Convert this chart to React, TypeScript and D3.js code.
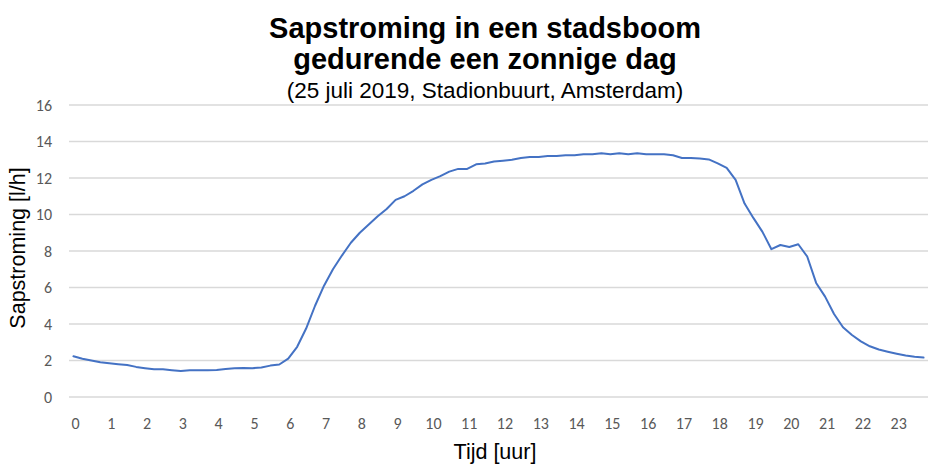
import React, { useEffect } from "react";
import * as d3 from "d3";

// sap flow in l/h, measured every 15 minutes from 00:00 to 23:45
const flow: number[] = [
  2.23, 2.1, 2.0, 1.9, 1.85, 1.8, 1.75, 1.65, 1.58, 1.52, 1.52, 1.47,
  1.42, 1.46, 1.47, 1.47, 1.48, 1.53, 1.58, 1.59, 1.58, 1.62, 1.72, 1.78,
  2.1, 2.75, 3.75, 5.0, 6.1, 7.0, 7.75, 8.45, 9.0, 9.45, 9.9, 10.3,
  10.8, 11.0, 11.3, 11.65, 11.9, 12.1, 12.35, 12.5, 12.5, 12.75, 12.8, 12.9,
  12.95, 13.0, 13.1, 13.15, 13.15, 13.2, 13.2, 13.25, 13.25, 13.3, 13.3, 13.35,
  13.3, 13.35, 13.3, 13.35, 13.3, 13.3, 13.3, 13.25, 13.1, 13.1, 13.07, 13.02,
  12.8, 12.55, 11.9, 10.6, 9.8, 9.05, 8.1, 8.33, 8.22, 8.37, 7.7, 6.25,
  5.5, 4.55, 3.82, 3.4, 3.05, 2.78, 2.6, 2.48, 2.37, 2.27, 2.2, 2.16,
];

const slotsPerHour = 4;
const hours: number[] = d3.range(24);
const yTicks: number[] = [0, 2, 4, 6, 8, 10, 12, 14, 16];

const title = ["Sapstroming in een stadsboom", "gedurende een zonnige dag"];
const subtitle = "(25 juli 2019, Stadionbuurt, Amsterdam)";

const W = 945;
const H = 465;
const margin = { top: 105, right: 17, bottom: 68, left: 69 };

const axisFont = "Carlito, 'Liberation Sans Narrow', 'Liberation Sans', Arial, sans-serif";
const titleFont = "'Liberation Sans', Arial, sans-serif";

export default function App() {
  useEffect(() => {
    document.body.style.margin = "0";
  }, []);

  const slots = d3.range(flow.length);
  const x = d3
    .scaleBand<number>()
    .domain(slots)
    .range([margin.left, W - margin.right]);
  const y = d3
    .scaleLinear()
    .domain([0, 16])
    .range([H - margin.bottom, margin.top]);

  const cx = (i: number) => (x(i) || 0) + x.bandwidth() / 2;

  const line = d3
    .line<number>()
    .x((_, i) => cx(i))
    .y((d) => y(d));

  const titleX = 485;

  return (
    <svg width={W} height={H} style={{ display: "block", background: "#fff" }}>
      {/* titles */}
      <g fontFamily={titleFont} textAnchor="middle" fill="#000">
        <text x={titleX} y={38} fontSize={29} fontWeight="bold">
          {title[0]}
        </text>
        <text x={titleX} y={69} fontSize={29} fontWeight="bold">
          {title[1]}
        </text>
        <text x={titleX} y={98} fontSize={22.5}>
          {subtitle}
        </text>
      </g>

      {/* gridlines */}
      <g>
        {yTicks.map((t) => (
          <line
            key={t}
            x1={margin.left}
            x2={W - margin.right}
            y1={y(t)}
            y2={y(t)}
            stroke="#d9d9d9"
            strokeWidth={1.3}
          />
        ))}
      </g>

      {/* y tick labels */}
      <g fontFamily={axisFont} fontSize={16} fill="#595959" textAnchor="end">
        {yTicks.map((t) => (
          <text key={t} x={52} y={y(t)} dy="0.35em">
            {t}
          </text>
        ))}
      </g>

      {/* x tick labels */}
      <g fontFamily={axisFont} fontSize={16} fill="#595959" textAnchor="middle">
        {hours.map((h) => (
          <text key={h} x={cx(h * slotsPerHour) + 2} y={429}>
            {h}
          </text>
        ))}
      </g>

      {/* axis titles */}
      <text
        x={495}
        y={459}
        fontFamily={titleFont}
        fontSize={21.5}
        fill="#000"
        textAnchor="middle"
      >
        Tijd [uur]
      </text>
      <text
        transform={`translate(25,${(y(0) + y(16)) / 2 - 3}) rotate(-90)`}
        fontFamily={titleFont}
        fontSize={21.5}
        fill="#000"
        textAnchor="middle"
      >
        Sapstroming [l/h]
      </text>

      {/* series */}
      <path
        d={line(flow) || ""}
        fill="none"
        stroke="#4472c4"
        strokeWidth={2}
        strokeLinejoin="round"
        strokeLinecap="round"
      />
    </svg>
  );
}
